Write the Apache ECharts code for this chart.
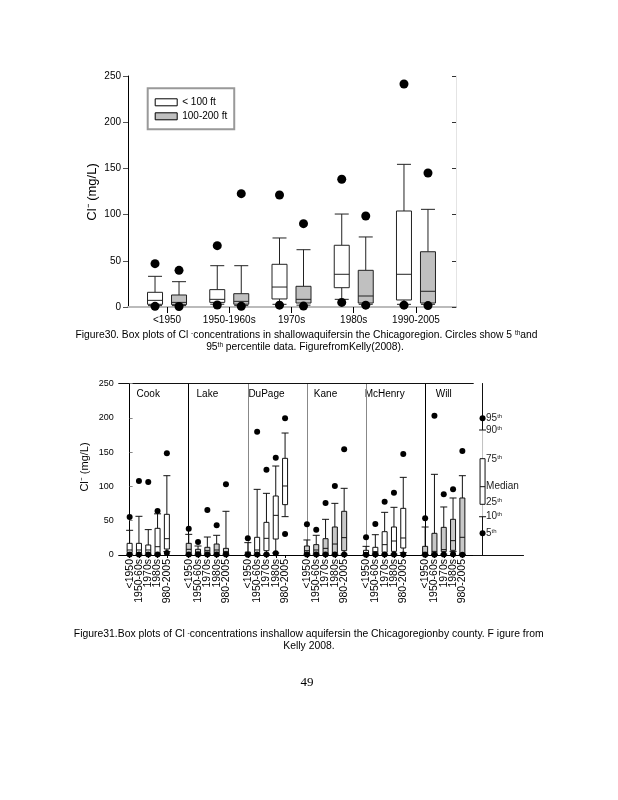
<!DOCTYPE html>
<html><head><meta charset="utf-8">
<script src="https://cdn.jsdelivr.net/npm/echarts@6/dist/echarts.min.js"></script>
<style>html,body{margin:0;padding:0;background:#fff}#c{width:618px;height:800px}</style>
</head><body><div id="c"></div>
<script>
// ================= DATA =================
// every row: [p5, p10, p25, median, p75, p90, p95]  (mg/L)
const topCategories = ['<1950', '1950-1960s', '1970s', '1980s', '1990-2005'];
const seriesNames = ['< 100 ft', '100-200 ft'];
const depthShallow = [
  [0.7, 1.5, 2.9, 7.2, 15.9, 33.2, 46.9],
  [2.2, 3.0, 5.0, 8.3, 18.8, 44.7, 66.4],
  [2.0, 2.9, 8.7, 21.6, 46.2, 74.7, 121.2],
  [5.0, 8.3, 20.9, 35.4, 66.8, 100.6, 138.2],
  [2.0, 2.9, 7.6, 35.4, 103.9, 154.4, 241.3]
];
const depthDeep = [
  [0.5, 1.5, 2.5, 5.0, 13.0, 27.4, 39.7],
  [0.8, 1.5, 3.0, 6.1, 14.4, 44.7, 122.7],
  [1.0, 2.0, 4.3, 8.3, 22.4, 62.0, 90.2],
  [2.0, 2.9, 4.3, 11.9, 39.7, 75.8, 98.5],
  [1.5, 2.9, 4.3, 17.0, 59.8, 105.7, 145.0]
];
const yTicks = [0, 50, 100, 150, 200, 250];

const counties = ['Cook', 'Lake', 'DuPage', 'Kane', 'McHenry', 'Will'];
const periods = ['<1950', '1950-60s', '1970s', '1980s', '980-2005'];
const cook = [
  [0.8, 1.2, 3.4, 7.3, 17.0, 36.0, 55.4],
  [0.8, 1.2, 3.0, 7.3, 17.0, 56.4, 107.9],
  [0.8, 1.2, 3.0, 7.3, 14.6, 37.0, 106.4],
  [0.8, 1.2, 2.0, 12.1, 38.9, 60.0, 64.1],
  [2.9, 4.9, 8.7, 23.8, 59.3, 115.6, 148.2]
];
const lake = [
  [0.8, 1.2, 3.0, 8.3, 17.0, 30.1, 38.4],
  [0.8, 1.2, 2.0, 4.4, 8.3, 13.1, 19.0],
  [0.8, 1.2, 2.0, 6.3, 11.2, 26.2, 65.6],
  [0.8, 1.2, 3.0, 7.3, 16.0, 28.7, 43.2],
  [0.8, 1.2, 2.0, 4.9, 9.7, 63.7, 103.0]
];
const dupage = [
  [0.3, 0.4, 0.6, 2.4, 4.4, 18.0, 24.3],
  [0.8, 1.2, 3.4, 7.3, 25.8, 95.7, 179.8],
  [0.8, 1.2, 6.3, 24.3, 47.6, 89.9, 124.4],
  [2.4, 3.0, 23.3, 57.8, 86.0, 129.7, 141.9],
  [30.6, 55.9, 73.4, 100.6, 140.9, 177.8, 199.2]
];
const kane = [
  [0.8, 1.2, 2.0, 6.3, 13.1, 21.9, 44.7],
  [0.8, 1.2, 2.0, 7.3, 15.1, 28.7, 36.9],
  [0.8, 1.2, 2.0, 9.7, 23.8, 52.0, 75.8],
  [0.8, 1.2, 3.0, 16.0, 40.8, 75.3, 100.6],
  [0.8, 1.2, 6.3, 25.3, 63.7, 97.2, 154.0]
];
const mchenry = [
  [0.5, 0.8, 1.0, 3.4, 6.8, 12.6, 25.8],
  [0.8, 1.2, 2.0, 4.9, 11.2, 29.6, 45.2],
  [0.8, 1.2, 3.9, 15.1, 34.0, 62.2, 77.7],
  [0.8, 1.2, 5.3, 20.4, 40.8, 69.5, 90.9],
  [0.8, 3.4, 10.2, 24.8, 68.0, 113.2, 147.2]
];
const will = [
  [0.5, 0.8, 1.0, 3.9, 12.6, 40.8, 53.4],
  [0.5, 0.8, 1.0, 5.3, 31.6, 117.6, 203.1],
  [0.8, 1.2, 4.9, 7.8, 40.3, 70.0, 88.4],
  [1.0, 5.3, 6.8, 20.9, 52.0, 83.1, 95.7],
  [0.5, 0.8, 1.0, 25.8, 83.1, 115.6, 151.6]
];
const countyStats = [cook, lake, dupage, kane, mchenry, will];
// sample box used in the key of figure 31
const keySample = [31.6, 55.8, 73.9, 99.6, 140.4, 182.2, 199.3];
const keyLabels = ['5', '10', '25', 'Median', '75', '90', '95'];

// ================= STYLE =================
const FONT = '"Liberation Sans", Arial, sans-serif';
const GRAY = '#c0c0c0';
const countyFill = ['#fff', '#c8c8c8', '#fff', '#c8c8c8', '#fff', '#c8c8c8'];
const dividerColor = ['#000', '#000', '#888', '#888', '#888', '#000'];

function boxRenderer(o) {
  return function (params, api) {
    const xv = api.value(0);
    const base = api.coord([xv, 0]);
    const cx = base[0] + o.offset;
    const Y = i => api.coord([xv, api.value(i)])[1];
    const p5 = Y(1), p10 = Y(2), p25 = Y(3), med = Y(4), p75 = Y(5), p90 = Y(6), p95 = Y(7);
    const ls = { stroke: o.stroke, lineWidth: 1 };
    const ws = { stroke: o.whisker || o.stroke, lineWidth: 1 };
    const h = o.boxW / 2, c = o.capW / 2;
    return {
      type: 'group', children: [
        { type: 'line', shape: { x1: cx, y1: p90, x2: cx, y2: p75 }, style: ws },
        { type: 'line', shape: { x1: cx, y1: p25, x2: cx, y2: p10 }, style: ws },
        { type: 'line', shape: { x1: cx - c, y1: p90, x2: cx + c, y2: p90 }, style: ls },
        { type: 'line', shape: { x1: cx - c, y1: p10, x2: cx + c, y2: p10 }, style: ls },
        { type: 'rect', shape: { x: cx - h, y: p75, width: o.boxW, height: p25 - p75 }, style: { fill: o.fill, stroke: o.stroke, lineWidth: 1 } },
        { type: 'line', shape: { x1: cx - h, y1: med, x2: cx + h, y2: med }, style: ls },
        { type: 'circle', shape: { cx: cx, cy: p5, r: o.r }, style: { fill: '#000' } },
        { type: 'circle', shape: { cx: cx, cy: p95, r: o.r }, style: { fill: '#000' } }
      ]
    };
  };
}

// ================= LAYOUT =================
const PANEL_L = 118.7, PANEL_W = 59.1, PANEL_T = 383.5, PANEL_H = 171.5;
const grids = [{ left: 128, top: 76, width: 328, height: 231, outerBoundsMode: 'none' }];
for (let p = 0; p < 6; p++) grids.push({ left: PANEL_L + p * PANEL_W, top: PANEL_T, width: PANEL_W, height: PANEL_H, outerBoundsMode: 'none' });
grids.push({ left: PANEL_L + 6 * PANEL_W, top: PANEL_T, width: 50, height: PANEL_H, outerBoundsMode: 'none' });

const xAxes = [], yAxes = [], series = [];
const none = { show: false };
// Figure 30 axes
xAxes.push({
  gridIndex: 0, type: 'value', min: 0.373, max: 5.643, position: 'bottom',
  axisLine: { show: true, lineStyle: { color: '#000', width: 1 } },
  axisTick: { show: true, length: 6, customValues: topCategories.map((_, i) => i + 1), lineStyle: { color: '#000' } },
  axisLabel: { show: true, interval: 0, customValues: topCategories.map((_, i) => i + 1), formatter: v => topCategories[Math.round(v) - 1], fontFamily: FONT, fontSize: 10, color: '#000', margin: 8, showMinLabel: true, showMaxLabel: true, hideOverlap: false },
  splitLine: none
});
xAxes.push({ gridIndex: 0, type: 'value', min: 0.373, max: 5.643, position: 'top',
  axisLine: { show: true, lineStyle: { color: '#bbb', width: 2 } }, axisTick: none, axisLabel: none, splitLine: none });
yAxes.push({
  gridIndex: 0, type: 'value', min: 0, max: 250, interval: 50, position: 'left',
  axisLine: { show: true, lineStyle: { color: '#000' } },
  axisTick: { show: true, length: 5, lineStyle: { color: '#555' } },
  axisLabel: { show: true, fontFamily: FONT, fontSize: 10, color: '#000', margin: 7, customValues: yTicks, showMinLabel: true, showMaxLabel: true },
  splitLine: none
});
yAxes.push({
  gridIndex: 0, type: 'value', min: 0, max: 250, interval: 50, position: 'right',
  axisLine: { show: true, lineStyle: { color: '#e4e4e4' } },
  axisTick: { show: true, inside: true, length: 4, lineStyle: { color: '#333' } },
  axisLabel: none, splitLine: none
});
series.push({ type: 'custom', name: seriesNames[0], xAxisIndex: 0, yAxisIndex: 0, itemStyle: { color: '#fff' },
  renderItem: boxRenderer({ offset: -12, boxW: 15, capW: 14, r: 4.5, fill: '#fff', stroke: '#222' }),
  encode: { x: 0, y: [1, 2, 3, 4, 5, 6, 7] },
  data: depthShallow.map((r, i) => [i + 1].concat(r)) });
series.push({ type: 'custom', name: seriesNames[1], xAxisIndex: 0, yAxisIndex: 0, itemStyle: { color: GRAY },
  renderItem: boxRenderer({ offset: 12, boxW: 15, capW: 14, r: 4.5, fill: GRAY, stroke: '#222' }),
  encode: { x: 0, y: [1, 2, 3, 4, 5, 6, 7] },
  data: depthDeep.map((r, i) => [i + 1].concat(r)) });

// Figure 31 panels
const XMIN = -1.175, XMAX = 5.175;
function periodLabelRenderer(params, api) {
  const pt = api.coord([api.value(0), 0]);
  return { type: 'text', x: pt[0], y: pt[1] + 4, rotation: Math.PI / 2, style: {
    text: periods[params.dataIndex], font: '10.5px ' + FONT, fill: '#000',
    textAlign: 'right', textVerticalAlign: 'middle' } };
}
for (let p = 0; p < 6; p++) {
  const g = p + 1;
  const xb = xAxes.length;
  xAxes.push({
    gridIndex: g, type: 'value', min: XMIN, max: XMAX, position: 'bottom',
    axisLine: { show: true, lineStyle: { color: '#000' } },
    axisTick: { show: true, length: 3, customValues: periods.map((_, i) => i), lineStyle: { color: '#000' } },
    axisLabel: none,
    splitLine: none
  });
  xAxes.push({ gridIndex: g, type: 'value', min: XMIN, max: XMAX, position: 'top',
    axisLine: { show: true, lineStyle: { color: '#111' } }, axisTick: none, axisLabel: none, splitLine: none });
  const yi = yAxes.length;
  yAxes.push({
    gridIndex: g, type: 'value', min: 0, max: 250, interval: 50, position: 'left',
    axisLine: { show: true, lineStyle: { color: dividerColor[p] } },
    axisTick: p === 0 ? { show: true, inside: true, length: 3, lineStyle: { color: '#888' } } : none,
    axisLabel: p === 0 ? { show: true, fontFamily: FONT, fontSize: 9, color: '#000', margin: 5, customValues: yTicks, showMinLabel: true, showMaxLabel: true } : none,
    splitLine: none
  });
  series.push({ type: 'custom', name: counties[p], xAxisIndex: xb, yAxisIndex: yi,
    renderItem: boxRenderer({ offset: 0, boxW: 5, capW: 7, r: 3, fill: countyFill[p], stroke: '#111' }),
    encode: { x: 0, y: [1, 2, 3, 4, 5, 6, 7] },
    data: countyStats[p].map((r, i) => [i].concat(r)) });
  // category labels under each panel (drawn on the panel's own x scale)
  series.push({ type: 'custom', name: counties[p] + ' labels', xAxisIndex: xb, yAxisIndex: yi, silent: true,
    renderItem: periodLabelRenderer, encode: { x: 0, y: 1 },
    data: periods.map((_, i) => [i, 0]) });
}
// key panel
const kx = xAxes.length;
xAxes.push({ gridIndex: 7, type: 'value', min: XMIN, max: XMAX, position: 'bottom',
  axisLine: { show: true, lineStyle: { color: '#000' } }, axisTick: none, axisLabel: none, splitLine: none });
xAxes.push({ gridIndex: 7, type: 'value', min: XMIN, max: XMAX, position: 'top',
  axisLine: { show: true, lineStyle: { color: '#111' } }, axisTick: none, axisLabel: none, splitLine: none });
const ky = yAxes.length;
yAxes.push({ gridIndex: 7, type: 'value', min: 0, max: 250, position: 'left',
  axisLine: { show: true, lineStyle: { color: '#d4d4d4' } }, axisTick: none, axisLabel: none, splitLine: none });
yAxes.push({ gridIndex: 7, type: 'value', min: 0, max: 250, position: 'right',
  axisLine: { show: true, lineStyle: { color: '#111' } }, axisTick: none, axisLabel: none, splitLine: none });
const keyBox = boxRenderer({ offset: 0, boxW: 5, capW: 7, r: 3, fill: '#fff', stroke: '#111', whisker: '#ccc' });
series.push({ type: 'custom', name: 'key', xAxisIndex: kx, yAxisIndex: ky,
  encode: { x: 0, y: [1, 2, 3, 4, 5, 6, 7] },
  data: [[0].concat(keySample)],
  renderItem: function (params, api) {
    const g = keyBox(params, api);
    const cx = api.coord([0, 0])[0];
    const nudge = [0, 0, -2, 0, 1, 0, 0];
    keyLabels.forEach((lab, i) => {
      const y = api.coord([0, api.value(i + 1)])[1] + nudge[i];
      const txt = lab === 'Median' ? '{a|Median}' : '{a|' + lab + '}{s|th}';
      g.children.push({ type: 'text', x: cx + 3.5, y: y, style: {
        text: txt, textAlign: 'left', textVerticalAlign: 'middle', fill: '#222',
        rich: { a: { fontFamily: FONT, fontSize: 10, fill: '#222' }, s: { fontFamily: FONT, fontSize: 6, verticalAlign: 'top', fill: '#222' } }
      } });
    });
    return g;
  } });

// ================= TEXT =================
const cap = (x, y, text, size) => ({ type: 'text', x: x, y: y, style: {
  text: text, textAlign: 'center', textVerticalAlign: 'middle', fill: '#000',
  rich: { a: { fontFamily: FONT, fontSize: size, fill: '#000' }, s: { fontFamily: FONT, fontSize: 6.5, verticalAlign: 'top', fill: '#000' } }
} });
const graphics = [
  { type: 'text', x: 92, y: 192, rotation: Math.PI / 2, style: { text: 'Cl\u207B (mg/L)', font: '13px ' + FONT, textAlign: 'center', textVerticalAlign: 'middle', fill: '#000' } },
  { type: 'text', x: 85, y: 467, rotation: Math.PI / 2, style: { text: 'Cl\u207B (mg/L)', font: '11px ' + FONT, textAlign: 'center', textVerticalAlign: 'middle', fill: '#000' } },
  cap(306.5, 335, '{a|Figure30. Box plots of Cl }{s|-}{a|concentrations in shallowaquifersin the Chicagoregion. Circles show 5 }{s|th}{a|and}', 10.3),
  cap(305, 347, '{a|95}{s|th}{a| percentile data. FigurefromKelly(2008).}', 10.3),
  cap(308.7, 634.5, '{a|Figure31.Box plots of Cl }{s|-}{a|concentrations inshallow aquifersin the Chicagoregionby county. F igure from}', 10.4),
  cap(309, 646, '{a|Kelly 2008.}', 10.4),
  { type: 'text', x: 307, y: 683, style: { text: '49', font: '13px "Liberation Serif", "DejaVu Serif", serif', textAlign: 'center', textVerticalAlign: 'middle', fill: '#000' } }
];
counties.forEach((c, p) => graphics.push({ type: 'text', x: PANEL_L + (p + 0.5) * PANEL_W, y: 394, style: { text: c, font: '10px ' + FONT, textAlign: 'center', textVerticalAlign: 'middle', fill: '#000' } }));

const chart = echarts.init(document.getElementById('c'), null, { renderer: 'canvas' });
chart.setOption({
  animation: false,
  backgroundColor: '#fff',
  grid: grids,
  xAxis: xAxes,
  yAxis: yAxes,
  legend: {
    left: 147.7, top: 88.3, orient: 'vertical', itemWidth: 22, itemHeight: 7, itemGap: 4,
    padding: [9, 7, 8, 7], borderColor: '#999', borderWidth: 2, backgroundColor: '#fff',
    textStyle: { fontFamily: FONT, fontSize: 10, color: '#000' },
    data: [
      { name: seriesNames[0], icon: 'rect', itemStyle: { color: '#fff', borderColor: '#000', borderWidth: 1 } },
      { name: seriesNames[1], icon: 'rect', itemStyle: { color: GRAY, borderColor: '#000', borderWidth: 1 } }
    ],
    selectedMode: false
  },
  graphic: graphics,
  series: series
});
</script></body></html>
